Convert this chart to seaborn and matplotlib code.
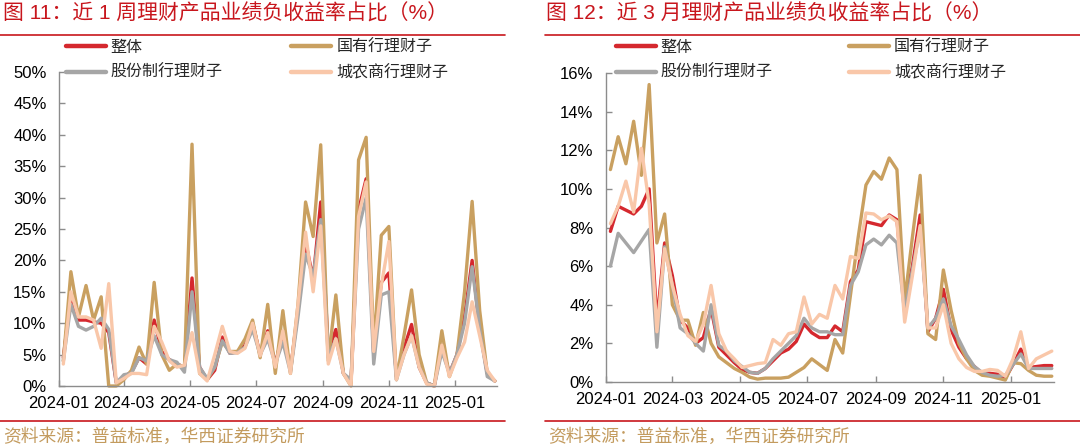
import numpy as np
import pandas as pd
import seaborn as sns
from matplotlib import pyplot as plt
from matplotlib.lines import Line2D

W, H = 1080, 446

names = ['整体', '国有行理财子', '股份制行理财子', '城农商行理财子']
colors = ['#D5282E', '#C9A060', '#A6A6A6', '#F9C7A9']

dates = pd.date_range('2024-01-05', periods=58, freq='7D')

# 近1周 (%)
week_total = [4.5, 14.5, 10.5, 10.5, 10.2, 10.0, 8.5, 0.5, 1.5, 2.2,
              4.5, 3.5, 10.5, 5.5, 4.2, 3.5, 3.0, 17.2, 3.0, 1.0,
              2.5, 7.8, 5.2, 5.5, 6.5, 10.0, 5.0, 8.8, 3.5, 8.5,
              2.5, 12.0, 23.0, 17.0, 29.3, 5.5, 9.0, 2.0, 0.5, 28.0,
              33.0, 5.0, 16.5, 18.0, 1.5, 6.0, 9.8, 3.0, 0.5, 0.0,
              6.5, 2.0, 5.0, 11.0, 20.0, 9.0, 2.0, 0.8]
week_state = [4.0, 18.2, 11.0, 16.0, 10.5, 14.2, 0.0, 0.0, 1.0, 2.5,
              6.2, 3.5, 16.5, 5.0, 2.5, 3.5, 3.0, 38.5, 2.0, 1.0,
              3.0, 7.0, 5.5, 5.5, 7.5, 10.5, 4.5, 13.0, 2.0, 12.0,
              2.0, 13.0, 29.3, 23.8, 38.4, 4.0, 14.5, 2.0, 0.0, 36.0,
              39.6, 6.0, 24.0, 25.4, 1.0, 8.0, 15.3, 5.0, 0.5, 0.0,
              8.8, 1.5, 5.0, 15.0, 29.4, 12.0, 2.0, 0.8]
week_joint = [4.0, 13.0, 9.5, 8.9, 9.5, 10.8, 9.0, 0.5, 1.8, 2.0,
              4.5, 4.0, 8.0, 5.0, 4.2, 3.8, 2.2, 15.0, 3.0, 1.2,
              3.0, 7.2, 5.2, 5.3, 6.2, 9.0, 5.0, 7.5, 3.5, 7.0,
              2.2, 11.0, 21.0, 17.5, 26.5, 4.5, 7.5, 2.0, 1.0, 25.0,
              30.0, 3.5, 14.5, 15.0, 1.0, 5.0, 8.0, 3.0, 0.5, 0.0,
              5.5, 2.0, 5.0, 10.0, 19.0, 9.0, 1.5, 0.8]
week_rural = [3.5, 15.0, 11.0, 11.0, 10.5, 6.0, 16.3, 0.5, 1.2, 2.0,
              2.0, 1.8, 9.5, 7.0, 4.0, 3.0, 3.3, 8.5, 2.0, 0.8,
              5.0, 9.5, 5.5, 5.2, 6.0, 10.0, 4.8, 8.5, 3.0, 8.8,
              2.0, 13.0, 24.5, 15.0, 25.5, 3.5, 7.5, 2.0, 0.0, 27.0,
              32.5, 5.5, 16.0, 23.0, 1.0, 5.0, 8.0, 3.0, 0.3, 0.0,
              6.5, 1.5, 4.5, 7.0, 13.4, 8.0, 2.5, 0.8]

# 近3月 (%)
month_total = [7.8, 9.1, 8.9, 8.7, 9.1, 10.0, 3.1, 7.2, 5.5, 3.2,
               2.8, 2.0, 2.3, 3.8, 1.8, 1.4, 1.0, 0.65, 0.5, 0.45,
               0.7, 1.1, 1.5, 1.7, 2.1, 3.0, 2.55, 2.3, 2.3, 2.9,
               2.6, 5.2, 5.8, 8.3, 8.2, 8.1, 8.65, 8.4, 4.0, 6.0,
               8.65, 2.6, 3.3, 4.8, 2.7, 1.8, 1.2, 0.8, 0.45, 0.45,
               0.4, 0.2, 0.9, 1.7, 0.75, 0.8, 0.85, 0.85]
month_state = [11.0, 12.7, 11.3, 13.5, 10.7, 15.4, 7.2, 8.7, 4.0, 3.2,
               3.2, 1.9, 3.6, 2.0, 1.3, 1.0, 0.7, 0.5, 0.25, 0.15,
               0.2, 0.2, 0.2, 0.25, 0.5, 0.75, 1.2, 0.9, 0.6, 2.2,
               1.5, 4.5, 7.5, 10.2, 10.9, 10.5, 11.6, 11.0, 4.2, 7.5,
               10.7, 2.5, 2.2, 5.8, 3.7, 2.0, 1.2, 0.6, 0.35, 0.3,
               0.2, 0.1, 1.0, 0.95, 0.6, 0.35, 0.3, 0.3]
month_joint = [6.0, 7.7, 7.2, 6.7, 7.3, 7.9, 1.8, 7.0, 5.0, 2.8,
               2.5, 2.0, 1.6, 4.0, 1.9, 1.6, 1.1, 0.8, 0.5, 0.45,
               0.7, 1.2, 1.6, 2.0, 2.4, 3.3, 2.8, 2.6, 2.6, 2.45,
               2.45, 5.0, 5.7, 7.1, 7.4, 7.1, 7.6, 7.2, 3.6, 5.8,
               8.0, 2.8, 3.3, 4.3, 2.9, 2.2, 1.4, 0.8, 0.5, 0.35,
               0.3, 0.35, 0.9, 1.45, 0.7, 0.7, 0.7, 0.7]
month_rural = [8.2, 9.1, 10.4, 8.8, 12.1, 9.2, 2.6, 6.9, 5.0, 3.5,
               2.4, 2.1, 3.0, 5.0, 2.5, 1.6, 1.2, 0.75, 0.85, 0.95,
               1.0, 2.2, 1.9, 2.5, 2.6, 4.4, 3.0, 3.5, 3.3, 5.0,
               4.3, 6.5, 6.4, 8.75, 8.7, 8.4, 8.6, 8.3, 3.1, 5.5,
               8.1, 2.8, 2.8, 4.0, 2.0, 1.2, 0.75, 0.55, 0.55, 0.65,
               0.6, 0.3, 1.2, 2.6, 0.7, 1.2, 1.4, 1.6]

sns.set_theme(style='white')
plt.rcParams['font.family'] = ['Liberation Sans', 'Noto Sans CJK SC']
cjk = ['Liberation Sans', 'Noto Sans CJK SC']
red = '#C8161D'
tan = '#C39B5E'
axis_grey = '#8C8C8C'


def to_long(values):
    df = pd.DataFrame({n: v for n, v in zip(names, values)}, index=dates)
    df.index.name = 'date'
    return df.reset_index().melt(id_vars='date', var_name='series', value_name='value')


def draw_panel(ax, data, ymax, ystep):
    sns.lineplot(data=data, x='date', y='value', hue='series', hue_order=names,
                 palette=dict(zip(names, colors)), linewidth=2.4, legend=False, ax=ax)
    for line in ax.lines:
        line.set_solid_joinstyle('round')
        line.set_solid_capstyle('round')
        line.set_clip_on(False)
    ax.set_xlim(pd.Timestamp('2024-01-01'), pd.Timestamp('2025-02-09'))
    ax.set_ylim(0, ymax)
    ticks = pd.date_range('2024-01-01', '2025-01-01', freq='2MS')
    ax.set_xticks(ticks)
    ax.set_xticklabels([t.strftime('%Y-%m') for t in ticks])
    yt = np.arange(0, ymax + 0.001, ystep)
    ax.set_yticks(yt)
    ax.set_yticklabels([f'{v:.0f}%' for v in yt])
    ax.set_xlabel('')
    ax.set_ylabel('')
    for s in ['top', 'right']:
        ax.spines[s].set_visible(False)
    for s in ['left', 'bottom']:
        ax.spines[s].set_color(axis_grey)
        ax.spines[s].set_linewidth(1.0)
    ax.tick_params(axis='both', direction='in', length=4, width=1, color=axis_grey,
                   labelsize=12, labelcolor='#000000')
    ax.tick_params(axis='y', pad=9, left=True)
    ax.tick_params(axis='x', pad=7, bottom=True)


fig = plt.figure(figsize=(W / 100, H / 100), dpi=100)
ax1 = fig.add_axes([59 / W, 1 - 386 / H, (497 - 59) / W, (386 - 72) / H])
ax2 = fig.add_axes([606 / W, 1 - 382 / H, (1054 - 606) / W, (382 - 73) / H])

draw_panel(ax1, to_long([week_total, week_state, week_joint, week_rural]), 50, 5)
draw_panel(ax2, to_long([month_total, month_state, month_joint, month_rural]), 16, 2)

# legend fills column-wise: order so rows read 整体/国有, 股份制/城农商
order = [0, 2, 1, 3]
handles = [Line2D([0], [0], color=colors[i], lw=3.2) for i in order]
labels = [names[i] for i in order]
for x0, colsp in [(66, 4.3), (616, 4.8)]:
    fig.legend(handles, labels, loc='upper left', bbox_to_anchor=(x0 / W, 1 - 40 / H),
               ncol=2, frameon=False, handlelength=2.5, handletextpad=0.3,
               columnspacing=colsp, labelspacing=0.62, borderpad=0, borderaxespad=0,
               prop={'family': cjk, 'size': 11.5})

fig.text(3 / W, 1 - 14 / H, '图 11：近 1 周理财产品业绩负收益率占比（%）', color=red,
         fontsize=15, family=cjk, va='center', ha='left')
fig.text(546 / W, 1 - 14 / H, '图 12：近 3 月理财产品业绩负收益率占比（%）', color=red,
         fontsize=15, family=cjk, va='center', ha='left')

for x0, x1 in [(0, 505), (545, 1080)]:
    fig.add_artist(Line2D([x0 / W, x1 / W], [1 - 35 / H] * 2, color=red, lw=1.2))
    fig.add_artist(Line2D([x0 / W, x1 / W], [1 - 421 / H] * 2, color=red, lw=1.2))

for x0 in [3, 548]:
    fig.text(x0 / W, 1 - 437 / H, '资料来源：普益标准，华西证券研究所', color=tan,
             fontsize=12.8, family=cjk, va='center', ha='left')

fig.savefig('out.png', dpi=100, facecolor='white')
